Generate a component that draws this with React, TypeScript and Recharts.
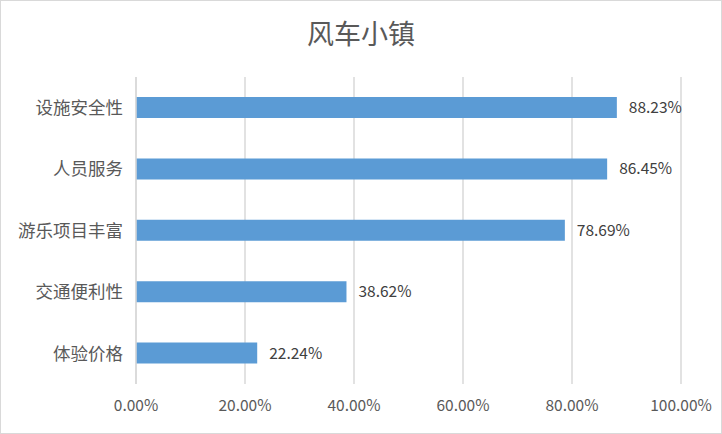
import React from 'react';
import { BarChart, Bar, XAxis, YAxis, CartesianGrid, LabelList } from 'recharts';

const categories = ['设施安全性', '人员服务', '游乐项目丰富', '交通便利性', '体验价格'];
const values = [0.8823, 0.8645, 0.7869, 0.3862, 0.2224];
const xTicks = [0, 0.2, 0.4, 0.6, 0.8, 1.0];

const data = categories.map((name, i) => ({ name, value: values[i] }));

const pct = (v: number) => `${(v * 100).toFixed(2)}%`;

const FONT = '"Noto Sans CJK SC", "Noto Sans", sans-serif';

export default function App() {
  return (
    <div
      style={{
        position: 'fixed',
        left: 0,
        top: 0,
        width: 720,
        height: 432,
        border: '1px solid #d9d9d9',
        background: '#fff',
        fontFamily: FONT,
      }}
    >
      <div
        style={{
          position: 'absolute',
          top: 13,
          width: '100%',
          textAlign: 'center',
          fontSize: 27,
          color: '#595959',
          lineHeight: '38px',
        }}
      >
        风车小镇
      </div>
      <BarChart
        layout="vertical"
        width={720}
        height={432}
        data={data}
        margin={{ top: 76, right: 40, bottom: 19, left: 0 }}
        barCategoryGap="33%"
      >
        <CartesianGrid horizontal={false} stroke="#d9d9d9" strokeWidth={1.5} />
        <XAxis
          type="number"
          domain={[0, 1]}
          ticks={xTicks}
          tickFormatter={pct}
          axisLine={false}
          tickLine={false}
          tickSize={0}
          tickMargin={16}
          height={30}
          tick={{ fill: '#595959', fontSize: 15.5, fontFamily: FONT }}
          interval={0}
        />
        <YAxis
          type="category"
          dataKey="name"
          width={135}
          axisLine={{ stroke: '#d9d9d9', strokeWidth: 1.5 }}
          tickLine={false}
          tickSize={0}
          tickMargin={13}
          tick={{ fill: '#595959', fontSize: 17.5, fontFamily: FONT }}
          interval={0}
        />
        <Bar dataKey="value" fill="#5b9bd5" barSize={21} isAnimationActive={false}>
          <LabelList
            dataKey="value"
            position="right"
            offset={12}
            formatter={(v: any) => pct(Number(v))}
            style={{ fill: '#404040', fontSize: 15.5, fontFamily: FONT }}
          />
        </Bar>
      </BarChart>
    </div>
  );
}
